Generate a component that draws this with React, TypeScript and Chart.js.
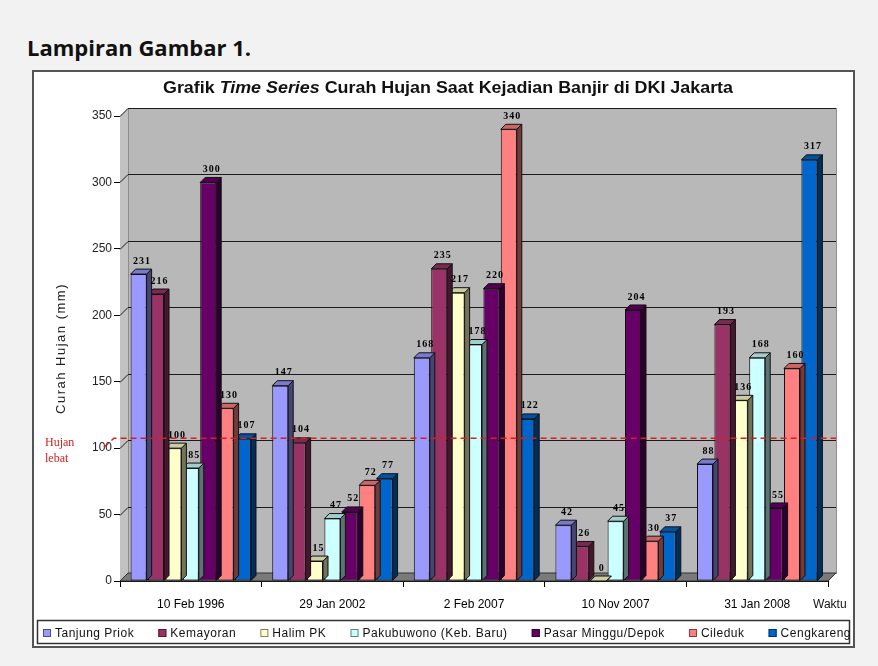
import React, { useEffect, useRef } from "react";
import { Chart, registerables } from "chart.js";

Chart.register(...registerables);

// ---------- data ----------
const categories = ["10 Feb 1996", "29 Jan 2002", "2 Feb 2007", "10 Nov 2007", "31 Jan 2008"];
const tanjungPriok = [231, 147, 168, 42, 88];
const kemayoran = [216, 104, 235, 26, 193];
const halimPK = [100, 15, 217, 0, 136];
const pakubuwono = [85, 47, 178, 45, 168];
const pasarMinggu = [300, 52, 220, 204, 55];
const cileduk = [130, 72, 340, 30, 160];
const cengkareng = [107, 77, 122, 37, 317];

const seriesNames = [
  "Tanjung Priok",
  "Kemayoran",
  "Halim PK",
  "Pakubuwono (Keb. Baru)",
  "Pasar Minggu/Depok",
  "Cileduk",
  "Cengkareng",
];
const seriesValues = [tanjungPriok, kemayoran, halimPK, pakubuwono, pasarMinggu, cileduk, cengkareng];
const seriesColors = ["#9999ff", "#993366", "#ffffcc", "#ccffff", "#660066", "#ff8080", "#0066cc"];

const yTicks = [0, 50, 100, 150, 200, 250, 300, 350];
const HEAVY_RAIN = 100;

const chartTitleParts = [
  { text: "Grafik ", italic: false },
  { text: "Time Series", italic: true },
  { text: " Curah Hujan Saat Kejadian Banjir di DKI Jakarta", italic: false },
];
const yAxisTitle = "Curah Hujan (mm)";
const xAxisTitle = "Waktu";
const thresholdLabel = ["Hujan", "lebat"];

const SANS = '"Liberation Sans", Arial, sans-serif';
const SERIF = '"Liberation Serif", "Times New Roman", serif';

const WALL_DEPTH = 8;
const BAR_DEPTH = 5;

function shade(hex: string, f: number) {
  const n = parseInt(hex.slice(1), 16);
  const r = Math.round(((n >> 16) & 255) * f);
  const g = Math.round(((n >> 8) & 255) * f);
  const b = Math.round((n & 255) * f);
  return `rgb(${r},${g},${b})`;
}

const threeD = {
  id: "threeD",
  beforeDatasetsDraw(chart: any) {
    const { ctx, chartArea } = chart;
    const { left, right, bottom } = chartArea;
    const y = chart.scales.y;
    const D = WALL_DEPTH;
    const yTop = y.getPixelForValue(yTicks[yTicks.length - 1]);
    ctx.save();
    // side wall
    ctx.fillStyle = "#c2c2c2";
    ctx.beginPath();
    ctx.moveTo(left, yTop);
    ctx.lineTo(left + D, yTop - D);
    ctx.lineTo(left + D, bottom - D);
    ctx.lineTo(left, bottom);
    ctx.closePath();
    ctx.fill();
    // back wall
    ctx.fillStyle = "#b8b8b8";
    ctx.fillRect(left + D, yTop - D, right - left, bottom - yTop);
    ctx.strokeStyle = "#8c8c8c";
    ctx.lineWidth = 1;
    ctx.strokeRect(left + D + 0.5, yTop - D + 0.5, right - left, bottom - yTop);
    // grid lines
    ctx.strokeStyle = "#1a1a1a";
    ctx.lineWidth = 1;
    yTicks.forEach((v) => {
      if (v === 0) return;
      const py = Math.round(y.getPixelForValue(v)) + 0.5;
      ctx.beginPath();
      ctx.moveTo(left, py);
      ctx.lineTo(left + D, py - D);
      ctx.lineTo(right + D, py - D);
      ctx.stroke();
    });
    // floor
    ctx.fillStyle = "#7a7a7a";
    ctx.beginPath();
    ctx.moveTo(left, bottom);
    ctx.lineTo(left + D, bottom - D);
    ctx.lineTo(right + D, bottom - D);
    ctx.lineTo(right, bottom);
    ctx.closePath();
    ctx.fill();
    ctx.strokeStyle = "#333";
    ctx.stroke();
    ctx.restore();
  },
  beforeDatasetDraw(chart: any, args: any) {
    const { ctx } = chart;
    const color = seriesColors[args.index];
    const d = BAR_DEPTH;
    ctx.save();
    ctx.strokeStyle = "#111";
    ctx.lineWidth = 1;
    args.meta.data.forEach((bar: any) => {
      const { x, y, base, width } = bar.getProps(["x", "y", "base", "width"], true);
      const l = x - width / 2;
      const r = x + width / 2;
      ctx.fillStyle = shade(color, 0.45);
      ctx.beginPath();
      ctx.moveTo(r, y);
      ctx.lineTo(r + d, y - d);
      ctx.lineTo(r + d, base - d);
      ctx.lineTo(r, base);
      ctx.closePath();
      ctx.fill();
      ctx.stroke();
      ctx.fillStyle = shade(color, 0.8);
      ctx.beginPath();
      ctx.moveTo(l, y);
      ctx.lineTo(l + d, y - d);
      ctx.lineTo(r + d, y - d);
      ctx.lineTo(r, y);
      ctx.closePath();
      ctx.fill();
      ctx.stroke();
    });
    ctx.restore();
  },
  afterDatasetsDraw(chart: any) {
    const { ctx, chartArea } = chart;
    const { left, right } = chartArea;
    const y = chart.scales.y;
    ctx.save();
    // value labels
    ctx.fillStyle = "#000";
    ctx.font = `bold 10px ${SERIF}`;
    (ctx as any).letterSpacing = "1px";
    ctx.textAlign = "center";
    ctx.textBaseline = "bottom";
    chart.data.datasets.forEach((ds: any, i: number) => {
      const meta = chart.getDatasetMeta(i);
      meta.data.forEach((bar: any, j: number) => {
        const { x, y: by } = bar.getProps(["x", "y"], true);
        ctx.fillText(String(ds.data[j]), x + BAR_DEPTH / 2 + 1, by - BAR_DEPTH - 3);
      });
    });
    (ctx as any).letterSpacing = "0px";
    // heavy-rain threshold line
    const py = y.getPixelForValue(HEAVY_RAIN) - WALL_DEPTH - 2;
    ctx.strokeStyle = "#d42020";
    ctx.lineWidth = 1.5;
    ctx.setLineDash([6, 4]);
    ctx.beginPath();
    ctx.moveTo(left - 16, py + 9);
    ctx.lineTo(left - 6, py);
    ctx.lineTo(right + WALL_DEPTH, py);
    ctx.stroke();
    ctx.setLineDash([]);
    ctx.restore();
  },
  afterDraw(chart: any) {
    const { ctx, chartArea, width, height } = chart;
    const y = chart.scales.y;
    ctx.save();
    // chart title with italic part, fitted to the reference width
    const fs = 17;
    const fonts = chartTitleParts.map((p) => `${p.italic ? "italic " : ""}bold ${fs}px ${SANS}`);
    let total = 0;
    const widths = chartTitleParts.map((p, i) => {
      ctx.font = fonts[i];
      const w = ctx.measureText(p.text).width;
      total += w;
      return w;
    });
    const targetW = 570;
    const sx = targetW / total;
    ctx.save();
    ctx.translate(414 - targetW / 2, 16);
    ctx.scale(sx, 1);
    ctx.fillStyle = "#111";
    ctx.textBaseline = "middle";
    ctx.textAlign = "left";
    let cx = 0;
    chartTitleParts.forEach((p, i) => {
      ctx.font = fonts[i];
      ctx.fillText(p.text, cx, 0);
      cx += widths[i];
    });
    ctx.restore();
    // y axis title
    ctx.save();
    ctx.translate(27, (chartArea.top + chartArea.bottom) / 2);
    ctx.rotate(-Math.PI / 2);
    ctx.font = `13px ${SANS}`;
    (ctx as any).letterSpacing = "1.5px";
    ctx.textAlign = "center";
    ctx.textBaseline = "middle";
    ctx.fillStyle = "#222";
    ctx.fillText(yAxisTitle, 0, 0);
    ctx.restore();
    // threshold label
    ctx.font = `12px ${SERIF}`;
    ctx.fillStyle = "#d42020";
    ctx.textAlign = "left";
    ctx.textBaseline = "alphabetic";
    const ty = y.getPixelForValue(HEAVY_RAIN);
    ctx.fillText(thresholdLabel[0], 11, ty - 2);
    ctx.fillText(thresholdLabel[1], 11, ty + 14);
    // x axis title
    ctx.font = `12px ${SANS}`;
    ctx.fillStyle = "#111";
    ctx.textBaseline = "middle";
    ctx.fillText(xAxisTitle, chartArea.right - 15, 533);
    // legend
    const legTop = 548;
    ctx.strokeStyle = "#333";
    ctx.lineWidth = 1.5;
    ctx.strokeRect(3.5, legTop + 0.5, width - 7, height - legTop - 3);
    ctx.font = `12px ${SANS}`;
    const ls = 0.5;
    const box = 8;
    const boxGap = 4;
    const itemW = seriesNames.map((n) => box + boxGap + ctx.measureText(n).width + n.length * ls);
    const span = 808;
    const startX = 9;
    const gap = Math.max(6, (span - itemW.reduce((a, b) => a + b, 0)) / (seriesNames.length - 1));
    (ctx as any).letterSpacing = `${ls}px`;
    let lx = startX;
    const ly = 561;
    seriesNames.forEach((n, i) => {
      ctx.fillStyle = seriesColors[i];
      ctx.fillRect(lx, ly - box / 2, box, box);
      ctx.strokeStyle = shade(seriesColors[i], 0.5);
      ctx.lineWidth = 1;
      ctx.strokeRect(lx + 0.5, ly - box / 2 + 0.5, box - 1, box - 1);
      ctx.fillStyle = "#111";
      ctx.textBaseline = "middle";
      ctx.fillText(n, lx + box + boxGap, ly + 1);
      lx += itemW[i] + gap;
    });
    ctx.restore();
  },
};

export default function App() {
  const canvasRef = useRef<HTMLCanvasElement | null>(null);

  useEffect(() => {
    document.body.style.margin = "0";
    const canvas = canvasRef.current;
    if (!canvas) return;
    const chart = new Chart(canvas, {
      type: "bar",
      data: {
        labels: categories,
        datasets: seriesNames.map((name, i) => ({
          label: name,
          data: seriesValues[i],
          backgroundColor: seriesColors[i],
          borderColor: "#111",
          borderWidth: 1,
          borderSkipped: false,
          clip: false,
          categoryPercentage: 0.86,
          barPercentage: 0.92,
        })),
      },
      options: {
        animation: false,
        responsive: false,
        events: [],
        layout: { padding: { top: 44, left: 0, right: 25, bottom: 27 } },
        plugins: {
          title: { display: false },
          tooltip: { enabled: false },
          legend: { display: false },
        },
        scales: {
          x: {
            grid: { display: true, drawOnChartArea: false, drawTicks: true, tickLength: 6, offset: true, color: "#000" },
            border: { display: true, color: "#000" },
            ticks: { color: "#000", font: { size: 12, family: SANS }, padding: 10 },
            afterFit: (s: any) => {
              s.height = 38;
            },
          },
          y: {
            min: 0,
            max: 350,
            ticks: { stepSize: 50, color: "#222", font: { size: 12, family: SANS }, padding: 2 },
            grid: { drawOnChartArea: false, tickLength: 6, color: "#000" },
            border: { display: true, color: "#000" },
            afterFit: (s: any) => {
              s.width = 86;
            },
          },
        },
      },
      plugins: [threeD],
    } as any);
    return () => chart.destroy();
  }, []);

  return (
    <div style={{ position: "relative", width: 878, height: 666, background: "#f2f2f2", overflow: "hidden" }}>
      <div
        style={{
          position: "absolute",
          left: 27,
          top: 32,
          font: `bold 22px "Open Sans", Lato, sans-serif`,
          color: "#111",
          whiteSpace: "nowrap",
        }}
      >
        Lampiran Gambar 1.
      </div>
      <div
        style={{
          position: "absolute",
          left: 32,
          top: 70,
          width: 823,
          height: 578,
          boxSizing: "border-box",
          border: "2px solid #555",
          background: "#fff",
        }}
      >
        <canvas ref={canvasRef} width={819} height={574} style={{ display: "block" }} />
      </div>
    </div>
  );
}
